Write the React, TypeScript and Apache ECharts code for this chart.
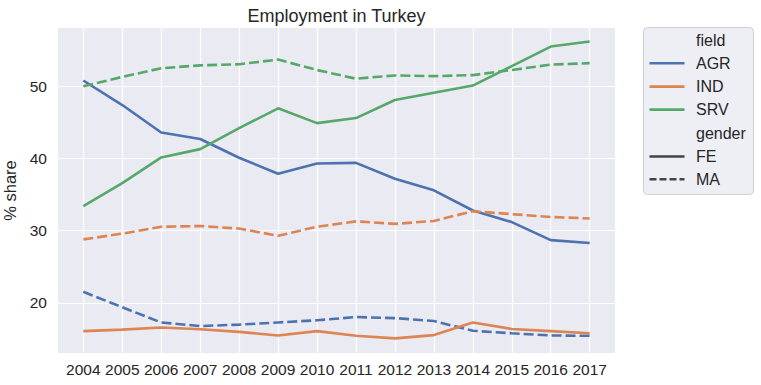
import React, { useEffect, useRef } from "react";
import * as echarts from "echarts";

const years = [2004, 2005, 2006, 2007, 2008, 2009, 2010, 2011, 2012, 2013, 2014, 2015, 2016, 2017];
const fields = ["AGR", "IND", "SRV"];
const genders = ["FE", "MA"];
const yTicks = [20, 30, 40, 50];

const agrFE = [50.8, 47.4, 43.6, 42.7, 40.1, 37.9, 39.3, 39.4, 37.2, 35.6, 32.8, 31.2, 28.7, 28.3];
const agrMA = [21.55, 19.4, 17.3, 16.8, 17.0, 17.3, 17.6, 18.05, 17.9, 17.5, 16.15, 15.8, 15.5, 15.45];
const indFE = [16.1, 16.3, 16.6, 16.35, 16.0, 15.5, 16.1, 15.45, 15.1, 15.55, 17.3, 16.4, 16.1, 15.8];
const indMA = [28.8, 29.6, 30.55, 30.65, 30.3, 29.3, 30.55, 31.3, 30.95, 31.35, 32.7, 32.3, 31.9, 31.7];
const srvFE = [33.4, 36.6, 40.15, 41.3, 44.2, 46.95, 44.9, 45.6, 48.1, 49.1, 50.1, 52.8, 55.5, 56.2];
const srvMA = [50.0, 51.3, 52.5, 52.9, 53.05, 53.7, 52.25, 51.05, 51.5, 51.4, 51.55, 52.25, 53.0, 53.2];

const colors = ["#4C72B0", "#DD8452", "#55A868"];
const FONT = "'Liberation Sans', Arial, Helvetica, sans-serif";
const TEXT = "#262626";

export default function App() {
  const ref = useRef<HTMLDivElement>(null);
  useEffect(() => {
    if (!ref.current) return;
    const chart = echarts.init(ref.current, undefined, { renderer: "svg" });
    const dataSets: Record<string, number[][]> = {
      AGR: [agrFE, agrMA],
      IND: [indFE, indMA],
      SRV: [srvFE, srvMA],
    };
    const series: any[] = [];
    fields.forEach((f, fi) => {
      genders.forEach((g, gi) => {
        series.push({
          name: f + " " + g,
          type: "line",
          data: years.map((y, i) => [y, dataSets[f][gi][i]]),
          showSymbol: false,
          symbol: "none",
          lineStyle: {
            color: colors[fi],
            width: 2.6,
            type: gi === 1 ? [10, 4] : "solid",
            cap: "butt",
          },
          itemStyle: { color: colors[fi] },
          z: 2,
        });
      });
    });

    const legendRows: { label: string; color?: string; dash?: boolean }[] = [
      { label: "field" },
      ...fields.map((f, i) => ({ label: f, color: colors[i] })),
      { label: "gender" },
      ...genders.map((g, i) => ({ label: g, color: "#444444", dash: i === 1 })),
    ];
    const rowY = [40, 63.3, 86.6, 109.6, 133.2, 156.5, 179.3];
    const legendEls: any[] = [
      {
        type: "rect",
        shape: { x: 643.5, y: 27.5, width: 110, height: 167, r: 4 },
        style: { fill: "#EEEEF5", stroke: "#D0D0D0", lineWidth: 1 },
      },
    ];
    legendRows.forEach((r, i) => {
      const y = rowY[i];
      if (r.color) {
        legendEls.push({
          type: "line",
          shape: { x1: 649.5, y1: y, x2: 684.5, y2: y },
          style: { stroke: r.color, lineWidth: 2.6, lineDash: r.dash ? [7, 3] : null },
        });
      }
      legendEls.push({
        type: "text",
        x: 696,
        y: y,
        style: {
          text: r.label,
          fill: TEXT,
          font: `16px ${FONT}`,
          verticalAlign: "middle",
        },
      });
    });

    chart.setOption({
      animation: false,
      backgroundColor: "#FFFFFF",
      title: {
        text: "Employment in Turkey",
        left: 336.5,
        textAlign: "center",
        top: 6.5,
        padding: 0,
        textStyle: { color: TEXT, fontFamily: FONT, fontSize: 18, fontWeight: "normal" },
      },
      grid: {
        left: 58,
        top: 28,
        width: 557,
        height: 325,
        containLabel: false,
        outerBoundsMode: "none",
        show: true,
        backgroundColor: "#EAEAF2",
        borderWidth: 0,
      },
      xAxis: {
        type: "value",
        min: 2003.35,
        max: 2017.65,
        axisLine: { show: false },
        axisTick: { show: false, customValues: years },
        axisLabel: {
          customValues: years,
          formatter: (v: number) => String(v),
          color: TEXT,
          fontFamily: FONT,
          fontSize: 15.5,
          margin: 8,
        },
        splitLine: { show: true, lineStyle: { color: "#FFFFFF", width: 1.2 } },
      },
      yAxis: {
        type: "value",
        min: 13.07,
        max: 58.07,
        name: "% share",
        nameLocation: "middle",
        nameGap: 36,
        nameRotate: 90,
        nameTextStyle: { color: TEXT, fontFamily: FONT, fontSize: 16.5 },
        axisLine: { show: false },
        axisTick: { show: false, customValues: yTicks },
        axisLabel: {
          customValues: yTicks,
          color: TEXT,
          fontFamily: FONT,
          fontSize: 15.5,
          margin: 11,
        },
        splitLine: { show: true, lineStyle: { color: "#FFFFFF", width: 1.2 } },
      },
      series,
      graphic: legendEls,
    });
    return () => chart.dispose();
  }, []);
  return (
    <div
      ref={ref}
      style={{ position: "fixed", left: 0, top: 0, width: 761, height: 385 }}
    />
  );
}
